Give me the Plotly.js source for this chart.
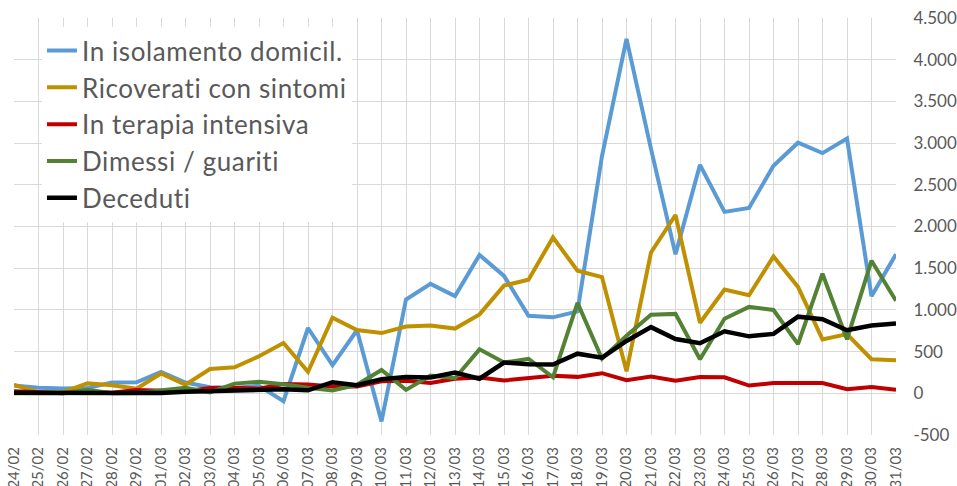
<!DOCTYPE html>
<html>
<head>
<meta charset="utf-8">
<script src="https://cdn.plot.ly/plotly-3.0.1.min.js"></script>
<style>html,body{margin:0;padding:0;background:#fff;}#chart{width:957px;height:486px;}
.legendtext{letter-spacing:0.6px;}</style>
</head>
<body>
<div id="chart"></div>
<script>
const dates = ["24/02","25/02","26/02","27/02","28/02","29/02","01/03","02/03","03/03","04/03","05/03","06/03","07/03","08/03","09/03","10/03","11/03","12/03","13/03","14/03","15/03","16/03","17/03","18/03","19/03","20/03","21/03","22/03","23/03","24/03","25/03","26/03","27/03","28/03","29/03","30/03","31/03"];
const isolamento = [94,68,59,63,128,131,255,129,73,65,90,-95,783,337,756,-337,1125,1312,1165,1659,1408,929,911,982,2845,4250,2931,1667,2739,2175,2223,2728,3005,2880,3055,1164,1668];
const ricoverati = [101,13,14,120,97,56,238,103,292,312,444,604,257,906,759,722,800,812,776,946,1291,1362,1869,1469,1394,263,1688,2138,846,1245,1175,1641,1276,647,710,409,397];
const terapia = [26,9,1,20,8,41,35,26,63,66,56,111,105,83,83,144,151,125,175,190,154,179,209,197,241,157,202,152,195,192,93,123,120,124,50,75,42];
const dimessi = [1,0,2,42,1,4,33,66,11,116,138,109,66,33,102,280,41,213,181,527,369,414,192,1084,415,689,943,952,408,894,1036,999,589,1434,646,1590,1109];
const deceduti = [7,3,2,5,4,8,5,18,27,28,41,49,36,133,97,168,196,189,250,175,368,349,345,475,427,627,793,651,601,743,683,712,919,889,756,812,837];
const seriesNames = ["In isolamento domicil.","Ricoverati con sintomi","In terapia intensiva","Dimessi / guariti","Deceduti"];
const yTickVals = [-500,0,500,1000,1500,2000,2500,3000,3500,4000,4500];
const yTickText = ["-500","0","500","1.000","1.500","2.000","2.500","3.000","3.500","4.000","4.500"];

const colors = ["#5B9BD5","#BF9000","#C00000","#548235","#000000"];
const widths = [4,4,4,4,4.5];
const data = [isolamento, ricoverati, terapia, dimessi, deceduti].map((ys,i)=>({
  type:'scatter', mode:'lines', x:dates, y:ys, name:seriesNames[i],
  line:{color:colors[i], width:widths[i]}
}));

const layout = {
  width:957, height:486,
  margin:{l:14, r:61, t:18, b:51},
  paper_bgcolor:'#fff', plot_bgcolor:'#fff',
  font:{family:'Lato, "Open Sans", sans-serif', color:'#595959'},
  showlegend:true,
  legend:{x:0.0317, y:0.978, xanchor:'left', yanchor:'top', bgcolor:'#fff', borderwidth:0,
          font:{size:26, color:'#595959'}, traceorder:'normal'},
  shapes:[{type:'rect', xref:'paper', yref:'paper', x0:0.017, x1:0.406, y0:0.52, y1:0.966,
           fillcolor:'#fff', line:{width:0}, layer:'between'}],
  xaxis:{type:'category', range:[0,36], showgrid:true, gridcolor:'#d9d9d9', gridwidth:1,
         tickangle:-90, tickfont:{size:15, color:'#595959'}, ticks:'outside', ticklen:5, tickcolor:'rgba(0,0,0,0)',
         zeroline:false, showline:false, automargin:false},
  yaxis:{side:'right', range:[-500,4500], tickvals:yTickVals, ticktext:yTickText,
         showgrid:true, gridcolor:'#d9d9d9', gridwidth:1, zeroline:false, showline:false,
         ticks:'outside', ticklen:13, tickcolor:'rgba(0,0,0,0)', tickfont:{size:17, color:'#595959'}, automargin:false}
};
Plotly.newPlot('chart', data, layout, {displayModeBar:false, staticPlot:true});
</script>
</body>
</html>
